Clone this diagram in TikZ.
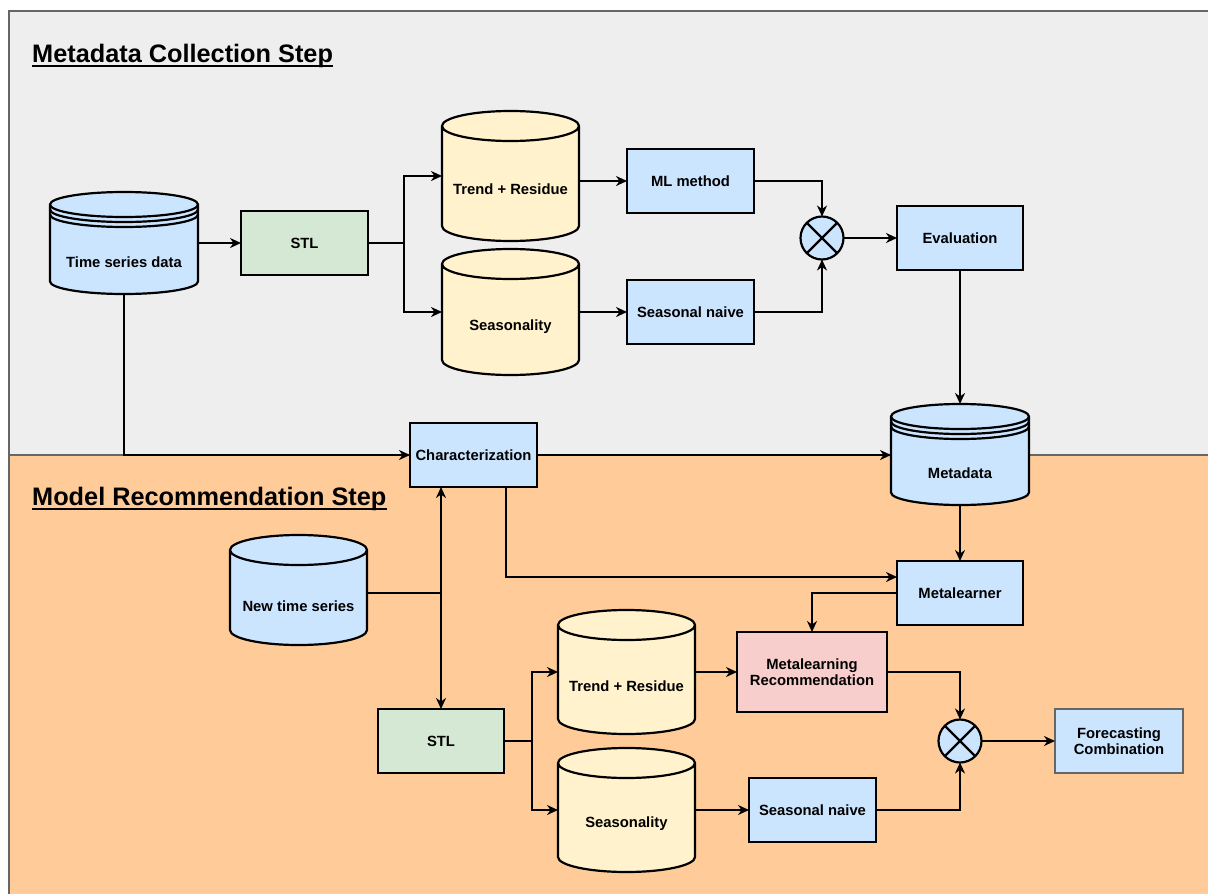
\documentclass[tikz,border=0pt]{standalone}
\usepackage{fontspec}
\setmainfont{Liberation Sans}
\usetikzlibrary{calc,arrows.meta}

\definecolor{panelgray}{HTML}{EEEEEE}
\definecolor{panelorange}{HTML}{FFCC99}
\definecolor{panelline}{HTML}{666666}
\definecolor{fillblue}{HTML}{CCE5FF}
\definecolor{fillgreen}{HTML}{D5E8D4}
\definecolor{fillyellow}{HTML}{FFF2CC}
\definecolor{fillpink}{HTML}{F8CECC}

\pgfdeclarelayer{panels}
\pgfdeclarelayer{shapes}
\pgfsetlayers{panels,shapes,main}

% plain cylinder drawn behind an invisible box node: #1 node, #2 ellipse half-height, #3 fill
\newcommand\cylshape[3]{%
  \begin{pgfonlayer}{shapes}
  \filldraw[shapeline, fill=#3] let \p1=(#1.north west), \p2=(#1.south east), \n1={(\x2-\x1)/2} in
    (\x1,{\y1-#2pt}) -- (\x1,{\y2+#2pt})
    arc[start angle=180,end angle=360,x radius=\n1,y radius=#2pt]
    -- (\x2,{\y1-#2pt})
    arc[start angle=0,end angle=180,x radius=\n1,y radius=#2pt] -- cycle
    (\x1,{\y1-#2pt}) arc[start angle=180,end angle=360,x radius=\n1,y radius=#2pt];
  \end{pgfonlayer}%
}
% data store: cylinder with two extra rings below the top
\newcommand\storeshape[3]{%
  \cylshape{#1}{#2}{#3}%
  \begin{pgfonlayer}{shapes}
  \draw[shapeline] let \p1=(#1.north west), \p2=(#1.south east), \n1={(\x2-\x1)/2} in
    (\x1,{\y1-#2pt-5pt}) arc[start angle=180,end angle=360,x radius=\n1,y radius=#2pt]
    (\x1,{\y1-#2pt-10pt}) arc[start angle=180,end angle=360,x radius=\n1,y radius=#2pt];
  \end{pgfonlayer}%
}

\tikzset{
  shapeline/.style={draw=black, line width=2.2pt},
  box/.style={shapeline, fill=#1, minimum width=127pt, minimum height=64pt,
    inner sep=2pt, outer sep=0pt, align=center},
  cylbox/.style={draw=none, inner sep=0pt, outer sep=0pt},
  mult/.style={circle, shapeline, fill=fillblue, minimum size=43pt, inner sep=0pt, outer sep=0pt,
    path picture={\draw[line width=2.2pt]
      (path picture bounding box.north west) -- (path picture bounding box.south east)
      (path picture bounding box.north east) -- (path picture bounding box.south west);}},
  conn/.style={line width=2.2pt, black},
  arr/.style={conn, -{Stealth[length=11pt,width=10pt,inset=3.5pt]}},
  title/.style={anchor=base west, inner sep=0pt, font=\bfseries\fontsize{25.3}{29}\selectfont},
}

\begin{document}
\begin{tikzpicture}[x=1pt,y=-1pt, font=\bfseries\fontsize{14.8}{18}\selectfont]
\clip (0,0) rectangle (1208,894);

% the two stage panels
\begin{pgfonlayer}{panels}
\fill[white] (0,0) rectangle (1208,894);
\filldraw[fill=panelgray, draw=panelline, line width=1.4pt] (9,11) rectangle (1220,455);
\filldraw[fill=panelorange, draw=panelline, line width=1.4pt] (9,455) rectangle (1220,905);
\end{pgfonlayer}

\node[title] (t1) at (32,62) {Metadata Collection Step};
\draw[line width=2.4pt] ([yshift=-4pt]t1.base west) -- ([yshift=-4pt]t1.base east);
\node[title] (t2) at (32,505) {Model Recommendation Step};
\draw[line width=2.4pt] ([yshift=-4pt]t2.base west) -- ([yshift=-4pt]t2.base east);

% ---- metadata collection ----
\node[cylbox, minimum width=148pt, minimum height=102pt,
  label={[yshift=-19pt]center:Time series data}] (tsd) at (124,243) {};
\storeshape{tsd}{12.5}{fillblue}
\node[box=fillgreen] (stl1) at (304.5,243) {STL};
\node[cylbox, minimum width=137pt, minimum height=130pt,
  label={[yshift=-13pt]center:Trend + Residue}] (tr1) at (510.5,176) {};
\cylshape{tr1}{15}{fillyellow}
\node[cylbox, minimum width=137pt, minimum height=126pt,
  label={[yshift=-15pt]center:Seasonality}] (se1) at (510.5,312) {};
\cylshape{se1}{15}{fillyellow}
\node[box=fillblue] (ml) at (690.5,181) {ML method};
\node[box=fillblue] (sn1) at (690.5,312) {Seasonal naive};
\node[mult] (cx1) at (822,238) {};
\node[box=fillblue, minimum width=126pt] (ev) at (960,238) {Evaluation};
\node[cylbox, minimum width=138pt, minimum height=101pt,
  label={[yshift=-18.5pt]center:Metadata}] (md) at (960,454.5) {};
\storeshape{md}{12.5}{fillblue}
\node[box=fillblue] (ch) at (473.5,455) {Characterization};

% ---- model recommendation ----
\node[box=fillblue, minimum width=126pt] (mlr) at (960,593) {Metalearner};
\node[cylbox, minimum width=137pt, minimum height=110pt,
  label={[yshift=-16pt]center:New time series}] (nts) at (298.5,590) {};
\cylshape{nts}{15}{fillblue}
\node[box=fillgreen, minimum width=126pt] (stl2) at (441,741) {STL};
\node[cylbox, minimum width=137pt, minimum height=124pt,
  label={[yshift=-14pt]center:Trend + Residue}] (tr2) at (626.5,672) {};
\cylshape{tr2}{15}{fillyellow}
\node[cylbox, minimum width=137pt, minimum height=124pt,
  label={[yshift=-14pt]center:Seasonality}] (se2) at (626.5,810) {};
\cylshape{se2}{15}{fillyellow}
\node[box=fillpink, minimum width=150pt, minimum height=80pt] (rec) at (812,672)
  {Metalearning\\[-2pt]Recommendation};
\node[box=fillblue] (sn2) at (812.5,810) {Seasonal naive};
\node[mult] (cx2) at (960,741) {};
\node[box=fillblue, draw=panelline, minimum width=128pt] (fc) at (1119,741)
  {Forecasting\\[-2pt]Combination};

% ---- connectors: collection step ----
\draw[arr] (tsd.east) -- (stl1.west);
\draw[conn] (stl1.east) -- ++(36,0) coordinate (b1);
\draw[arr] (b1) |- (tr1.west);
\draw[arr] (b1) |- (se1.west);
\draw[arr] (tr1.east |- ml.west) -- (ml.west);
\draw[arr] (se1.east) -- (sn1.west);
\draw[arr] (ml.east) -| (cx1.north);
\draw[arr] (sn1.east) -| (cx1.south);
\draw[arr] (cx1.east) -- (ev.west);
\draw[arr] (ev.south) -- (md.north);
\draw[arr] (tsd.south) |- (ch.west);
\draw[arr] (ch.east) -- (md.west |- ch.east);

% ---- connectors: recommendation step ----
\draw[arr] ([xshift=32.5pt]ch.south) |- ([yshift=16pt]mlr.west);
\draw[arr] (md.south) -- (mlr.north);
\draw[arr] (mlr.west) -| (rec.north);
\draw[conn] ([yshift=-3pt]nts.east) -- ([yshift=-3pt]nts.east -| stl2.north) coordinate (b2);
\draw[arr] (b2) -- (ch.south -| b2);
\draw[arr] (b2) -- (stl2.north);
\draw[conn] (stl2.east) -- ++(28,0) coordinate (b3);
\draw[arr] (b3) |- (tr2.west);
\draw[arr] (b3) |- (se2.west);
\draw[arr] (tr2.east) -- (rec.west);
\draw[arr] (rec.east) -| (cx2.north);
\draw[arr] (se2.east) -- (sn2.west);
\draw[arr] (sn2.east) -| (cx2.south);
\draw[arr] (cx2.east) -- (fc.west);
\end{tikzpicture}
\end{document}
